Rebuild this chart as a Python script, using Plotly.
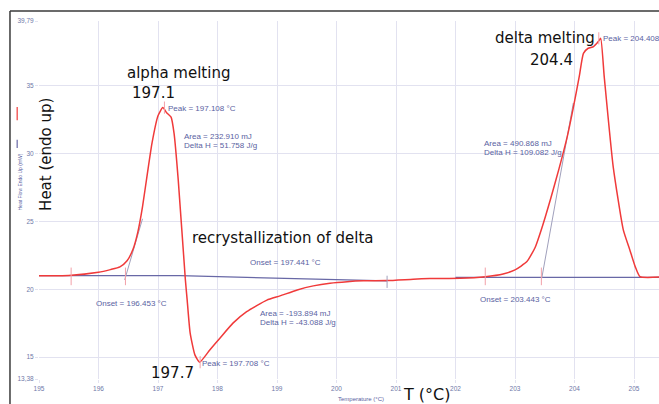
import plotly.graph_objects as go

# DSC heating scan: temperature (°C) vs heat flow, endo up (mW)
temp_c = [195.00, 195.50, 196.00, 196.20, 196.36, 196.48, 196.58, 196.66, 196.74,
          196.82, 196.90, 197.00, 197.08, 197.15, 197.22, 197.27, 197.34, 197.46,
          197.49, 197.54, 197.62, 197.70, 197.87, 198.04, 198.26, 198.49, 198.83,
          199.05, 199.34, 199.61, 199.89, 200.18, 200.45, 200.85, 201.29, 201.57,
          202.08, 202.50, 202.80, 203.00, 203.20, 203.34, 203.45, 203.60, 203.74,
          203.88, 203.98, 204.08, 204.15, 204.23, 204.32, 204.40, 204.44, 204.50,
          204.65, 204.82, 204.93, 205.02, 205.10, 205.42]
heat_flow = [21.00, 21.02, 21.25, 21.45, 21.65, 22.10, 22.95, 24.20, 26.10,
             28.50, 30.80, 32.80, 33.40, 33.00, 32.70, 31.50, 28.07, 20.70,
             19.22, 16.78, 15.16, 14.62, 15.52, 16.39, 17.50, 18.35, 19.20,
             19.51, 19.95, 20.25, 20.45, 20.56, 20.62, 20.64, 20.74, 20.79,
             20.81, 20.93, 21.13, 21.43, 22.04, 23.10, 24.50, 26.70, 28.90,
             31.30, 33.40, 35.70, 37.40, 37.78, 37.90, 38.27, 38.51, 35.65,
             29.05, 24.38, 22.90, 21.67, 20.93, 20.90]

# integration baselines
base1_t = [195.00, 197.37, 200.85]
base1_y = [21.00, 21.00, 20.62]
base2_t = [202.00, 205.42]
base2_y = [20.88, 20.88]

# onset tangents
tan1_t = [196.44, 196.74]
tan1_y = [20.69, 25.20]
tan2_t = [203.45, 203.98]
tan2_y = [20.82, 33.74]

# event temperatures reported by the analysis
peaks = [197.108, 197.708, 204.408]
peak_levels = [33.40, 14.62, 38.51]
limits = [195.54, 196.453, 202.50, 203.443]
end_marks = [200.85]

x_ticks = list(range(195, 206))
y_ticks = [13.38, 15, 20, 25, 30, 35, 39.79]
y_tick_text = ["13,38", "15", "20", "25", "30", "35", "39,79"]

RED = "#f03a3a"
BLUE = "#6868a6"
GRAY = "#a0a0bc"
PINK = "#f2a0a8"
LABEL = "#5a62a2"
GRID = "#e2e2f0"

fig = go.Figure()
fig.add_trace(go.Scatter(x=base1_t, y=base1_y, mode="lines",
                         line=dict(color=BLUE, width=1.2), hoverinfo="skip"))
fig.add_trace(go.Scatter(x=base2_t, y=base2_y, mode="lines",
                         line=dict(color=BLUE, width=1.2), hoverinfo="skip"))
fig.add_trace(go.Scatter(x=tan1_t, y=tan1_y, mode="lines",
                         line=dict(color=GRAY, width=1), hoverinfo="skip"))
fig.add_trace(go.Scatter(x=tan2_t, y=tan2_y, mode="lines",
                         line=dict(color=GRAY, width=1), hoverinfo="skip"))
fig.add_trace(go.Scatter(x=temp_c, y=heat_flow, mode="lines",
                         line=dict(color=RED, width=1.5, shape="spline", smoothing=0.5),
                         name="Heat Flow Endo Up (mW)"))

shapes = []
# small vertical markers at peaks and integration limits
for t, lvl in zip(peaks, peak_levels):
    shapes.append(dict(type="line", xref="x", yref="y", x0=t, x1=t,
                       y0=lvl - 0.45, y1=lvl + 0.45, line=dict(color=PINK, width=1)))
for t in limits:
    shapes.append(dict(type="line", xref="x", yref="y", x0=t, x1=t,
                       y0=20.3, y1=21.6, line=dict(color=PINK, width=1)))
for t in end_marks:
    shapes.append(dict(type="line", xref="x", yref="y", x0=t, x1=t,
                       y0=20.1, y1=21.0, line=dict(color=GRAY, width=1)))
# outer frame (left and top)
shapes.append(dict(type="line", xref="paper", yref="paper", x0=-0.0468, x1=-0.0468,
                   y0=-0.08, y1=1.028, line=dict(color="#3a3a3a", width=1.5)))
shapes.append(dict(type="line", xref="paper", yref="paper", x0=-0.0468, x1=1.0,
                   y0=1.028, y1=1.028, line=dict(color="#3a3a3a", width=1.5)))
# series keys beside the y axis title
shapes.append(dict(type="line", xref="paper", yref="paper", x0=-0.0352, x1=-0.0352,
                   y0=0.723, y1=0.760, line=dict(color=RED, width=1.2)))
shapes.append(dict(type="line", xref="paper", yref="paper", x0=-0.0352, x1=-0.0352,
                   y0=0.645, y1=0.668, line=dict(color=BLUE, width=1.2)))

small = dict(family="Liberation Sans, Arial", size=8, color=LABEL)
big = dict(family="DejaVu Sans", size=15, color="#111111")


def note(text, x, y, font, xanchor="left", **kw):
    return dict(text=text, x=x, y=y, xref="x", yref="y", showarrow=False,
                font=font, xanchor=xanchor, yanchor="middle", **kw)


annotations = [
    note("Peak = 197.108 °C", 197.134, 33.37, small),
    note("Area = 232.910 mJ", 197.398, 31.26, small),
    note("Delta H = 51.758 J/g", 197.398, 30.59, small),
    note("Onset = 196.453 °C", 195.929, 18.92, small),
    note("Onset = 197.441 °C", 198.508, 21.97, small),
    note("Area = -193.894 mJ", 198.686, 18.23, small),
    note("Delta H = -43.088 J/g", 198.686, 17.54, small),
    note("Peak = 197.708 °C", 197.714, 14.55, small),
    note("Area = 490.868 mJ", 202.45, 30.77, small),
    note("Delta H = 109.082 J/g", 202.45, 30.11, small),
    note("Peak = 204.408", 204.445, 38.51, small),
    note("Onset = 203.443 °C", 202.373, 19.22, small),
    note("alpha melting", 197.34, 35.95, big, xanchor="center"),
    note("197.1", 196.92, 34.48, big, xanchor="center"),
    note("recrystallization of delta", 199.10, 23.79, big, xanchor="center"),
    note("197.7", 197.24, 13.83, big, xanchor="center"),
    note("delta melting", 203.50, 38.54, big, xanchor="center"),
    note("204.4", 203.61, 36.91, big, xanchor="center"),
    dict(text="T (°C)", x=0.626, y=-0.042, xref="paper", yref="paper",
         showarrow=False, font=dict(family="DejaVu Sans", size=16, color="#111111"),
         xanchor="center", yanchor="middle"),
    dict(text="Heat (endo up)", x=0.0113, y=0.626, xref="paper", yref="paper",
         showarrow=False, textangle=-90, font=big, xanchor="center", yanchor="middle"),
    dict(text="Heat Flow Endo Up (mW)", x=-0.030, y=0.55, xref="paper", yref="paper",
         showarrow=False, textangle=-90,
         font=dict(family="Liberation Sans, Arial", size=5, color=LABEL),
         xanchor="center", yanchor="middle"),
    dict(text="Temperature (°C)", x=0.519, y=-0.056, xref="paper", yref="paper",
         showarrow=False, font=dict(family="Liberation Sans, Arial", size=6, color=LABEL),
         xanchor="center", yanchor="middle"),
]

fig.update_layout(
    width=659, height=404,
    margin=dict(l=39, r=0, t=21, b=25),
    paper_bgcolor="white", plot_bgcolor="white",
    showlegend=False,
    shapes=shapes, annotations=annotations,
)
fig.update_xaxes(range=[195, 205.42], tickvals=x_ticks, showgrid=True, gridcolor=GRID,
                 gridwidth=1, zeroline=False, showline=False, ticks="outside",
                 ticklen=3, tickcolor=GRID,
                 tickfont=dict(family="Liberation Sans, Arial", size=6.5, color="#6f78a8"))
fig.update_yaxes(range=[13.38, 39.79], tickvals=y_ticks, ticktext=y_tick_text,
                 showgrid=True, gridcolor=GRID, gridwidth=1, zeroline=False,
                 showline=False, ticks="outside", ticklen=3, tickcolor=GRID,
                 tickfont=dict(family="Liberation Sans, Arial", size=6.5, color="#6f78a8"))

fig.write_html("out.html")
